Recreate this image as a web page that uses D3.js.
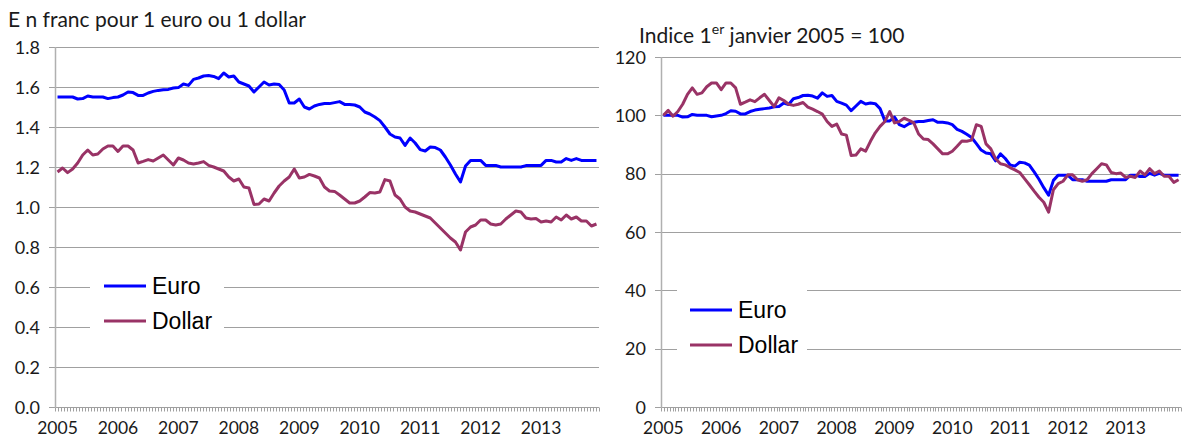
<!DOCTYPE html>
<html>
<head>
<meta charset="utf-8">
<style>
	html, body {
		margin: 0;
		padding: 0;
		background: #fff;
	}
	svg {
		display: block;
	}
</style>
</head>
<body>
<script src="https://d3js.org/d3.v7.min.js"></script>
<script>
	// monthly values, Jan 2005 -> Dec 2013
	var years = ["2005", "2006", "2007", "2008", "2009", "2010", "2011", "2012", "2013"];
	var seriesNames = ["Euro", "Dollar"];

	// left panel: francs for 1 euro / 1 dollar
	var euroFranc = [1.55, 1.55, 1.55, 1.55, 1.54, 1.542, 1.555, 1.55, 1.55, 1.55, 1.542, 1.547,
		1.55, 1.56, 1.575, 1.572, 1.558, 1.558, 1.57, 1.578, 1.583, 1.586, 1.588, 1.595,
		1.597, 1.615, 1.608, 1.638, 1.645, 1.655, 1.657, 1.653, 1.642, 1.67, 1.65, 1.655,
		1.625, 1.615, 1.605, 1.575, 1.60, 1.625, 1.61, 1.615, 1.612, 1.585, 1.52, 1.52,
		1.54, 1.50, 1.49, 1.505, 1.513, 1.517, 1.517, 1.522, 1.527, 1.513, 1.513, 1.51,
		1.50, 1.475, 1.465, 1.45, 1.432, 1.40, 1.365, 1.35, 1.345, 1.308, 1.345, 1.32,
		1.287, 1.28, 1.30, 1.297, 1.285, 1.25, 1.21, 1.165, 1.125, 1.205, 1.233, 1.233,
		1.233, 1.208, 1.208, 1.208, 1.20, 1.20, 1.20, 1.20, 1.20, 1.207, 1.208, 1.208,
		1.208, 1.233, 1.233, 1.225, 1.225, 1.242, 1.233, 1.242, 1.233, 1.233, 1.233, 1.233];
	var dollarFranc = [1.175, 1.195, 1.172, 1.19, 1.22, 1.26, 1.285, 1.26, 1.265, 1.29, 1.305, 1.305,
		1.278, 1.305, 1.305, 1.285, 1.22, 1.228, 1.237, 1.23, 1.245, 1.26, 1.235, 1.21,
		1.245, 1.235, 1.22, 1.215, 1.22, 1.227, 1.208, 1.2, 1.19, 1.18, 1.15, 1.13,
		1.14, 1.10, 1.095, 1.013, 1.015, 1.04, 1.03, 1.07, 1.105, 1.13, 1.15, 1.19,
		1.145, 1.15, 1.163, 1.155, 1.145, 1.10, 1.08, 1.078, 1.06, 1.04, 1.02, 1.02,
		1.03, 1.05, 1.072, 1.07, 1.075, 1.137, 1.13, 1.06, 1.04, 1.0, 0.98, 0.975,
		0.965, 0.955, 0.945, 0.92, 0.895, 0.87, 0.845, 0.825, 0.785, 0.875, 0.9, 0.91,
		0.935, 0.935, 0.915, 0.91, 0.915, 0.94, 0.96, 0.98, 0.975, 0.945, 0.94, 0.942,
		0.925, 0.93, 0.925, 0.95, 0.935, 0.96, 0.94, 0.95, 0.93, 0.93, 0.905, 0.915];

	// right panel: index, 1 Jan 2005 = 100
	var euroIndex = [100, 100, 100, 100, 99.4, 99.5, 100.3, 100, 100, 100, 99.5, 99.8,
		100, 100.6, 101.6, 101.4, 100.5, 100.5, 101.3, 101.8, 102.1, 102.3, 102.5, 102.9,
		103.0, 104.2, 103.7, 105.7, 106.1, 106.8, 106.9, 106.6, 105.9, 107.7, 106.5, 106.8,
		104.8, 104.2, 103.5, 101.6, 103.2, 104.8, 103.9, 104.2, 104.0, 102.3, 98.1, 98.1,
		99.4, 96.8, 96.1, 97.1, 97.6, 97.9, 97.9, 98.2, 98.5, 97.6, 97.6, 97.4,
		96.8, 95.2, 94.5, 93.5, 92.4, 90.3, 88.1, 87.1, 86.8, 84.4, 86.8, 85.2,
		83.0, 82.6, 83.9, 83.7, 82.9, 80.6, 78.1, 75.2, 72.6, 77.7, 79.5, 79.5,
		79.5, 77.9, 77.9, 77.9, 77.4, 77.4, 77.4, 77.4, 77.4, 77.9, 77.9, 77.9,
		77.9, 79.5, 79.5, 79.0, 79.0, 80.1, 79.5, 80.1, 79.5, 79.5, 79.5, 79.5];
	var dollarIndex = [100, 101.7, 99.7, 101.3, 103.8, 107.2, 109.4, 107.2, 107.7, 109.8, 111.1, 111.1,
		108.8, 111.1, 111.1, 109.4, 103.8, 104.5, 105.3, 104.7, 106.0, 107.2, 105.1, 103.0,
		106.0, 105.1, 103.8, 103.4, 103.8, 104.4, 102.8, 102.1, 101.3, 100.4, 97.9, 96.2,
		97.0, 93.6, 93.2, 86.2, 86.4, 88.5, 87.7, 91.1, 94.0, 96.2, 97.9, 101.3,
		97.4, 97.9, 99.0, 98.3, 97.4, 93.6, 91.9, 91.7, 90.2, 88.5, 86.8, 86.8,
		87.7, 89.4, 91.2, 91.1, 91.5, 96.8, 96.2, 90.2, 88.5, 85.1, 83.4, 83.0,
		82.1, 81.3, 80.4, 78.3, 76.2, 74.0, 71.9, 70.2, 66.8, 74.5, 76.6, 77.4,
		79.6, 79.6, 77.9, 77.4, 77.9, 80.0, 81.7, 83.4, 83.0, 80.4, 80.0, 80.2,
		78.7, 79.1, 78.7, 80.9, 79.6, 81.7, 80.0, 80.9, 79.1, 79.1, 77.0, 77.9];

	var leftTicks = [0, 0.2, 0.4, 0.6, 0.8, 1.0, 1.2, 1.4, 1.6, 1.8];
	var rightTicks = [0, 20, 40, 60, 80, 100, 120];

	var colors = ["#0000ff", "#993366"];
	var labelFont = "Lato, 'Open Sans', sans-serif";
	var legendFont = "'Liberation Sans', Arial, sans-serif";

	var svg = d3.select("body").append("svg")
		.attr("width", 1184)
		.attr("height", 439);

	function drawPanel(p) {
		var x = d3.scaleLinear().domain([-0.5, euroFranc.length - 0.5]).range([p.left, p.right]);
		var y = d3.scaleLinear().domain([0, p.max]).range([p.bottom, p.top]);
		var g = svg.append("g");

		// gridlines (they run a few px left of the axis to make the tick marks)
		g.selectAll("line.grid")
			.data(p.ticks)
			.enter()
		  .append("line")
			.attr("class", "grid")
			.attr("x1", p.left - 6)
			.attr("x2", p.right)
			.attr("y1", function(d) { return Math.round(y(d)) + 0.5; })
			.attr("y2", function(d) { return Math.round(y(d)) + 0.5; })
			.attr("stroke", "#a0a0a0")
			.attr("stroke-width", 1);

		// small ticks under the category axis
		var minorTicks = d3.range(-0.5, euroFranc.length - 0.4, 0.6);
		g.selectAll("line.xtick")
			.data(minorTicks)
			.enter()
		  .append("line")
			.attr("class", "xtick")
			.attr("x1", function(d) { return Math.round(x(d)) + 0.5; })
			.attr("x2", function(d) { return Math.round(x(d)) + 0.5; })
			.attr("y1", Math.round(y(0)) + 0.5)
			.attr("y2", Math.round(y(0)) + 4.5)
			.attr("stroke", "#a0a0a0")
			.attr("stroke-width", 1);

		// vertical axis
		g.append("line")
			.attr("x1", p.left + 0.5)
			.attr("x2", p.left + 0.5)
			.attr("y1", Math.round(y(p.max)))
			.attr("y2", Math.round(y(0)) + 1)
			.attr("stroke", "#b0b0b0")
			.attr("stroke-width", 1.5);

		g.selectAll("text.ylab")
			.data(p.ticks)
			.enter()
		  .append("text")
			.attr("class", "ylab")
			.attr("x", p.left - 15)
			.attr("y", function(d) { return y(d) + 6.5; })
			.attr("text-anchor", "end")
			.attr("font-family", labelFont)
			.attr("font-size", "18px")
			.attr("fill", "#1a1a1a")
			.text(p.format);

		g.selectAll("text.xlab")
			.data(years)
			.enter()
		  .append("text")
			.attr("class", "xlab")
			.attr("x", function(d, i) { return x(i * 12); })
			.attr("y", 434)
			.attr("text-anchor", "middle")
			.attr("font-family", labelFont)
			.attr("font-size", "17.5px")
			.attr("fill", "#1a1a1a")
			.text(function(d) { return d; });

		// legend box hides the gridlines behind it
		g.append("rect")
			.attr("x", p.legend.x)
			.attr("y", p.legend.y)
			.attr("width", p.legend.w)
			.attr("height", p.legend.h)
			.attr("fill", "#fff");

		var line = d3.line()
			.x(function(d, i) { return x(i); })
			.y(function(d) { return y(d); });

		g.selectAll("path.series")
			.data(p.series)
			.enter()
		  .append("path")
			.attr("class", "series")
			.attr("d", line)
			.attr("fill", "none")
			.attr("stroke", function(d, i) { return colors[i]; })
			.attr("stroke-width", 3)
			.attr("stroke-linejoin", "round");

		var items = g.selectAll("g.legend")
			.data(seriesNames)
			.enter()
		  .append("g")
			.attr("class", "legend")
			.attr("transform", function(d, i) {
				return "translate(" + p.legend.lx + "," + (p.legend.ly + i * 35) + ")";
			});

		items.append("line")
			.attr("x1", 0)
			.attr("x2", 42)
			.attr("stroke", function(d, i) { return colors[i]; })
			.attr("stroke-width", 3);

		items.append("text")
			.attr("x", 48)
			.attr("y", 8)
			.attr("font-family", legendFont)
			.attr("font-size", "23px")
			.attr("fill", "#000")
			.text(function(d) { return d; });
	}

	drawPanel({
		left: 55, right: 599, top: 47, bottom: 407, max: 1.8,
		ticks: leftTicks,
		format: function(d) { return d.toFixed(1); },
		series: [euroFranc, dollarFranc],
		legend: { x: 90, y: 263, w: 134, h: 80, lx: 104, ly: 286 }
	});

	drawPanel({
		left: 661, right: 1181, top: 57, bottom: 407, max: 120,
		ticks: rightTicks,
		format: function(d) { return d; },
		series: [euroIndex, dollarIndex],
		legend: { x: 677, y: 282, w: 130, h: 80, lx: 690, ly: 310 }
	});

	// titles
	svg.append("text")
		.attr("x", 8)
		.attr("y", 27)
		.attr("font-family", labelFont)
		.attr("font-size", "21px")
		.attr("fill", "#1a1a1a")
		.text("E n franc pour 1 euro ou 1 dollar");

	var t2 = svg.append("text")
		.attr("x", 639)
		.attr("y", 43)
		.attr("font-family", labelFont)
		.attr("font-size", "21px")
		.attr("fill", "#1a1a1a");
	t2.append("tspan").text("Indice 1");
	t2.append("tspan").attr("dy", -9).attr("font-size", "14px").text("er");
	t2.append("tspan").attr("dy", 9).text(" janvier 2005 = 100");
</script>
</body>
</html>
